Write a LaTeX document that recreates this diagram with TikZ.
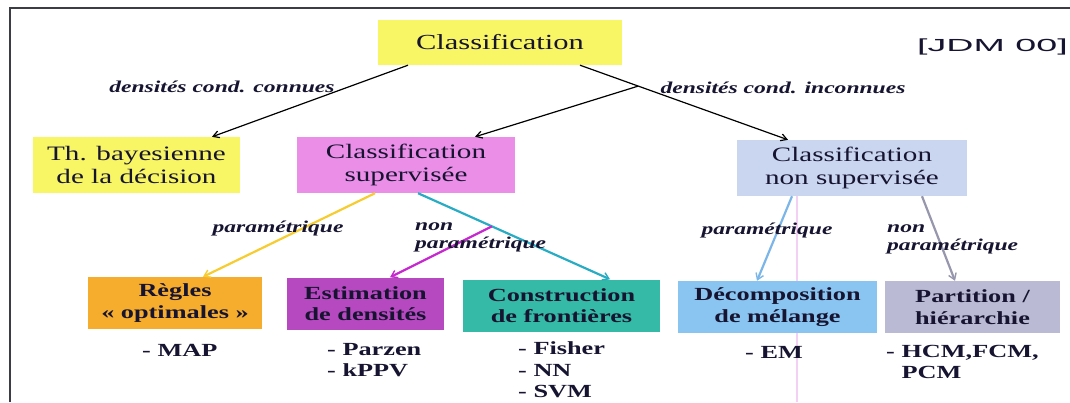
\documentclass[tikz,border=0pt]{standalone}
\usepackage{fontspec}
\setmainfont{Liberation Serif}[FakeStretch=1.42]
\newfontfamily\jdmfont{Liberation Sans}[FakeStretch=2.15]
\usetikzlibrary{arrows.meta,calc}

\definecolor{ink}{RGB}{22,20,48}
\definecolor{cyellow}{RGB}{248,246,100}
\definecolor{cpink}{RGB}{234,142,232}
\definecolor{cpale}{RGB}{202,214,240}
\definecolor{corange}{RGB}{246,172,44}
\definecolor{cpurple}{RGB}{182,72,192}
\definecolor{cteal}{RGB}{52,186,166}
\definecolor{clblue}{RGB}{138,196,240}
\definecolor{cgrey}{RGB}{186,186,212}
\definecolor{lyellow}{RGB}{246,204,48}
\definecolor{lcyan}{RGB}{40,172,196}
\definecolor{lmagenta}{RGB}{196,40,206}
\definecolor{lblue}{RGB}{124,182,232}
\definecolor{lgrey}{RGB}{150,150,172}
\definecolor{frame}{RGB}{60,60,70}
\definecolor{guide}{RGB}{236,170,236}

\newcommand\topbox{\fontsize{21.5}{23}\selectfont}
\newcommand\bigbox{\fontsize{20.5}{23}\selectfont}
\newcommand\smallbox{\fontsize{18.5}{21.5}\selectfont\bfseries}
\newcommand\edgetext{\fontsize{16.6}{18}\selectfont\bfseries\itshape}

\tikzset{
  box/.style={align=center, inner sep=0pt, text=ink},
  upper/.style={box, font=\bigbox},
  lower/.style={box, font=\smallbox, minimum height=52pt},
  items/.style={anchor=west, align=left, inner sep=0pt, text=ink, font=\smallbox},
  edgelabel/.style={inner sep=0pt, text=ink, font=\edgetext},
  conn/.style={draw=black, line width=1.2pt, -{Straight Barb[length=6pt,width=7pt]}},
  cconn/.style={line width=2.2pt, -{Straight Barb[length=6pt,width=8pt,line width=1.4pt]}},
}

\begin{document}
\begin{tikzpicture}[x=1pt,y=-1pt]
\useasboundingbox (0,0) rectangle (1070,402);

% frame
\draw[frame, line width=1.8pt] (10,402) -- (10,8) -- (1070,8);

% faint vertical guide
\draw[guide, line width=1.6pt, opacity=0.55] (797,190) -- (797,402);

% boxes
\node[upper, font=\topbox, fill=cyellow, minimum width=244pt, minimum height=45pt] (top) at (500,42.5) {Classification};
\node[upper, fill=cyellow, minimum width=207pt, minimum height=56pt] (bayes) at (136.5,165) {Th. bayesienne\\de la décision};
\node[upper, fill=cpink, minimum width=218pt, minimum height=56pt] (sup) at (406,165) {Classification\\supervisée};
\node[upper, fill=cpale, minimum width=230pt, minimum height=56pt] (nonsup) at (852,168) {Classification\\non supervisée};

\node[lower, fill=corange, minimum width=174pt] (regles) at (175,303) {Règles\\« optimales »};
\node[lower, fill=cpurple, minimum width=157pt] (estim) at (365.5,303.5) {Estimation\\de densités};
\node[lower, fill=cteal, minimum width=197pt] (constr) at (561.5,305.5) {Construction\\de frontières};
\node[lower, fill=clblue, minimum width=199pt] (decomp) at (777.5,307) {Décomposition\\de mélange};
\node[lower, fill=cgrey, minimum width=175pt] (part) at (972.5,307) {Partition /\\hiérarchie};

% reference tag
\node[anchor=west, inner sep=0pt, text=ink, font=\jdmfont\fontsize{17.5}{20}\selectfont] (tag) at (917,47) {[JDM 00]};

% method lists
\node[items] (lmap) at (142,350) {- MAP};
\node[items] (lparzen) at (327,360) {- Parzen\\- kPPV};
\node[items] (lfisher) at (518,370) {- Fisher\\- NN\\- SVM};
\node[items] (lem) at (745,352) {- EM};
\node[items] (lhcm) at (886,362) {- HCM,FCM,\\\phantom{- }PCM};

% connectors from the root
\draw[conn] ([xshift=-92pt]top.south) -- ([xshift=75.5pt]bayes.north);
\draw[conn] ([xshift=80pt]top.south) -- coordinate[pos=0.28] (br1) ([xshift=-64pt]nonsup.north);
\draw[conn] (br1) -- ([xshift=69pt]sup.north);

% supervised branch
\draw[cconn, lyellow] ([xshift=-31pt]sup.south) -- ([xshift=28pt]regles.north);
\draw[cconn, lcyan] ([xshift=12pt]sup.south) -- coordinate[pos=0.385] (br2) ([xshift=48.5pt]constr.north);
\draw[cconn, lmagenta] (br2) -- ([xshift=24.5pt]estim.north);

% unsupervised branch
\draw[cconn, lblue] ([xshift=-60pt]nonsup.south) -- ([xshift=-20.5pt]decomp.north);
\draw[cconn, lgrey] ([xshift=70pt]nonsup.south) -- ([xshift=-17.5pt]part.north);

% edge labels
\node[edgelabel] (kconn) at (222,87) {densités cond. connues};
\node[edgelabel] (kinc) at (783,88) {densités cond. inconnues};
\node[edgelabel] (kpar1) at (278,228) {paramétrique};
\node[edgelabel, anchor=west, align=left] (knp1) at (415,237) {non\\paramétrique};
\node[edgelabel] (kpar2) at (767,230) {paramétrique};
\node[edgelabel, anchor=west, align=left] (knp2) at (887,239) {non\\paramétrique};
\end{tikzpicture}
\end{document}
